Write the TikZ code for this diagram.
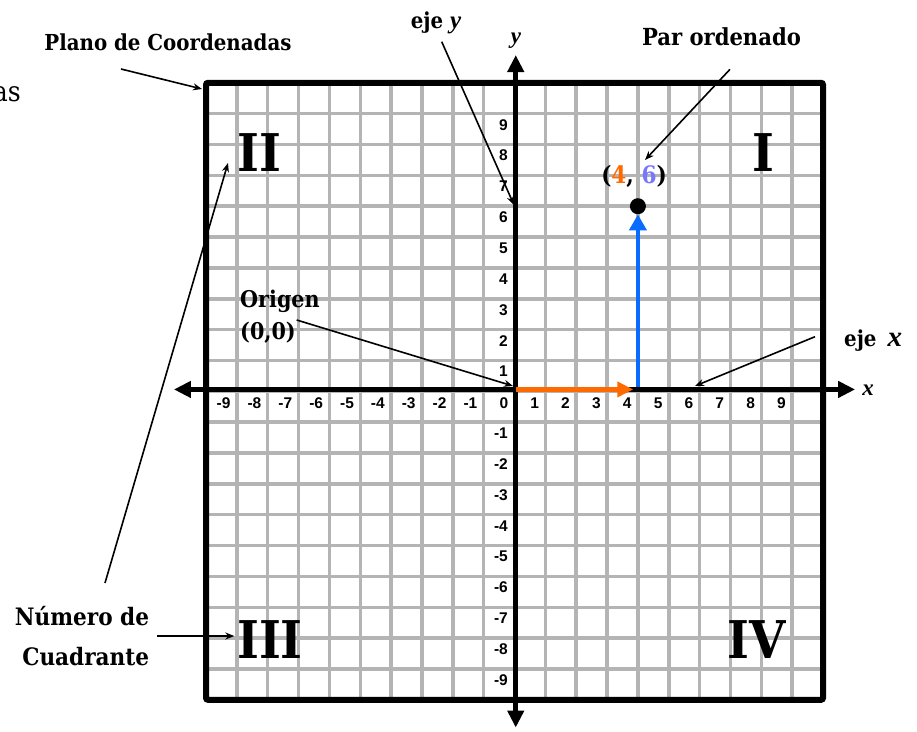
\documentclass[tikz,border=0pt]{standalone}
\usepackage{fontspec}
\setmainfont{DejaVu Serif}
\newfontfamily\slab{DejaVu Serif Condensed}
\newfontfamily\tick{Liberation Sans}
\newfontfamily\lserif{Liberation Serif}
\usetikzlibrary{arrows.meta}
\definecolor{gridgray}{HTML}{B4B4B4}
\definecolor{orng}{HTML}{FF6A00}
\definecolor{blu}{HTML}{0A6CFF}
\definecolor{lav}{HTML}{7676FF}
\begin{document}
\begin{tikzpicture}[x=1pt,y=-1pt,
  lbl/.style={font=\slab\bfseries\fontsize{22}{26}\selectfont, inner sep=0pt},
  roman/.style={font=\slab\bfseries\fontsize{52}{52}\selectfont, inner sep=0pt},
  tk/.style={font=\tick\bfseries\fontsize{15.5}{15.5}\selectfont, inner sep=0pt},
  axl/.style={font=\lserif\bfseries\itshape\fontsize{23}{23}\selectfont, inner sep=0pt},
  annot/.style={line width=1.6pt, -{Stealth[length=9pt,width=7pt]}},
  axisline/.style={line width=5pt, {Triangle[length=17pt,width=16pt]}-{Triangle[length=17pt,width=16pt]}},
]
\useasboundingbox (0,0) rectangle (917,731);
\fill[white] (0,0) rectangle (917,731);
\begin{scope}[shift={(514.5,391.3)}, x=30.85pt, y=30.85pt]
  % grid
  \foreach \k in {-9,...,9} {
    \draw[gridgray, line width=3.5pt] (\k,-10) -- (\k,10);
    \draw[gridgray, line width=3.5pt] (-10,\k) -- (10,\k);
  }
  % frame
  \draw[line width=6pt, rounded corners=2pt] (-10,-10) rectangle (10,10);
  % blue arrow (under axis)
  \node[circle, fill=black, inner sep=0pt, minimum size=16pt] (P) at (4,6) {};
  \coordinate (B0) at (4,0);
  \draw[blu, line width=4.5pt, -{Triangle[length=16pt,width=17pt]}] (B0) -- (P.south);
  % axes
  \coordinate (xL) at (-11.04,0.06);
  \coordinate (xR) at (11.04,0.06);
  \coordinate (yB) at (0.04,-10.9);
  \coordinate (yT) at (0.04,10.9);
  \draw[axisline] (xL) -- (xR);
  \draw[axisline] (yB) -- (yT);
  % orange arrow
  \coordinate (O) at (0.04,0.06);
  \coordinate (O4) at (3.85,0.06);
  \draw[orng, line width=5pt, -{Triangle[length=16pt,width=15pt]}] (O) -- (O4);
  % tick labels
  \foreach \k in {-9,...,9} {
    \node[tk, anchor=east] (xt\k) at (\k-0.2,-0.39) {\k};
  }
  \foreach \k in {-9,...,-1,1,2,...,9} {
    \node[tk, anchor=east] (yt\k) at (-0.21,\k-0.36) {\k};
  }
\end{scope}

% axis letters
\node[axl] (xl) at (868,390) {x};
\node[axl] (yl) at (516,40.5) {y};

% quadrant numerals
\node[roman] (qI) at (763,152.5) {I};
\node[roman] (qII) at (259,153) {II};
\node[roman] (qIII) at (270,640) {III};
\node[roman] (qIV) at (756.7,640) {IV};

% ordered pair
\node[font=\slab\bfseries\fontsize{24}{24}\selectfont, inner sep=0pt, anchor=base] (pair) at (634,183.3) {(\textcolor{orng}{4}, \textcolor{lav}{6})};

% labels
\node[lbl, anchor=base] (plano) at (168,50) {Plano de Coordenadas};
\node[font=\slab\fontsize{28}{28}\selectfont, inner sep=0pt, anchor=base east] (las) at (21,101.7) {las};
\node[lbl, anchor=base] (ejey) at (436,28) {eje {\lserif\bfseries\itshape\fontsize{25}{25}\selectfont y}};
\node[lbl, font=\slab\bfseries\fontsize{23.5}{26}\selectfont, anchor=base] (par) at (721.5,45) {Par ordenado};
\node[lbl, font=\slab\bfseries\fontsize{23}{32}\selectfont, anchor=north west, align=left] (orig) at (240,290) {Origen\\(0,0)};
\node[lbl, anchor=base west] (ejex) at (844,346.7) {eje\hspace{11pt}{\lserif\itshape\fontsize{29}{29}\selectfont x}};
\node[lbl, font=\slab\bfseries\fontsize{24}{40}\selectfont, anchor=north east, align=right] (num) at (149.3,606.5) {Número de\\Cuadrante};

% annotation arrows
\coordinate (a1s) at (121,69);    \coordinate (a1e) at (202,89);
\coordinate (a2s) at (441.7,41.7); \coordinate (a2e) at (514,205);
\coordinate (a3s) at (730,69.3);  \coordinate (a3e) at (645,160);
\coordinate (a4s) at (296.7,320); \coordinate (a4e) at (513,386);
\coordinate (a5s) at (815,336.7); \coordinate (a5e) at (695,386);
\coordinate (a6s) at (157.3,636); \coordinate (a6e) at (234.3,636);
\coordinate (a7s) at (105,583);   \coordinate (a7e) at (228,163);
\draw[annot] (a1s) -- (a1e);
\draw[annot] (a2s) -- (a2e);
\draw[annot] (a3s) -- (a3e);
\draw[annot] (a4s) -- (a4e);
\draw[annot] (a5s) -- (a5e);
\draw[annot] (a6s) -- (a6e);
\draw[annot] (a7s) -- (a7e);
\end{tikzpicture}
\end{document}
